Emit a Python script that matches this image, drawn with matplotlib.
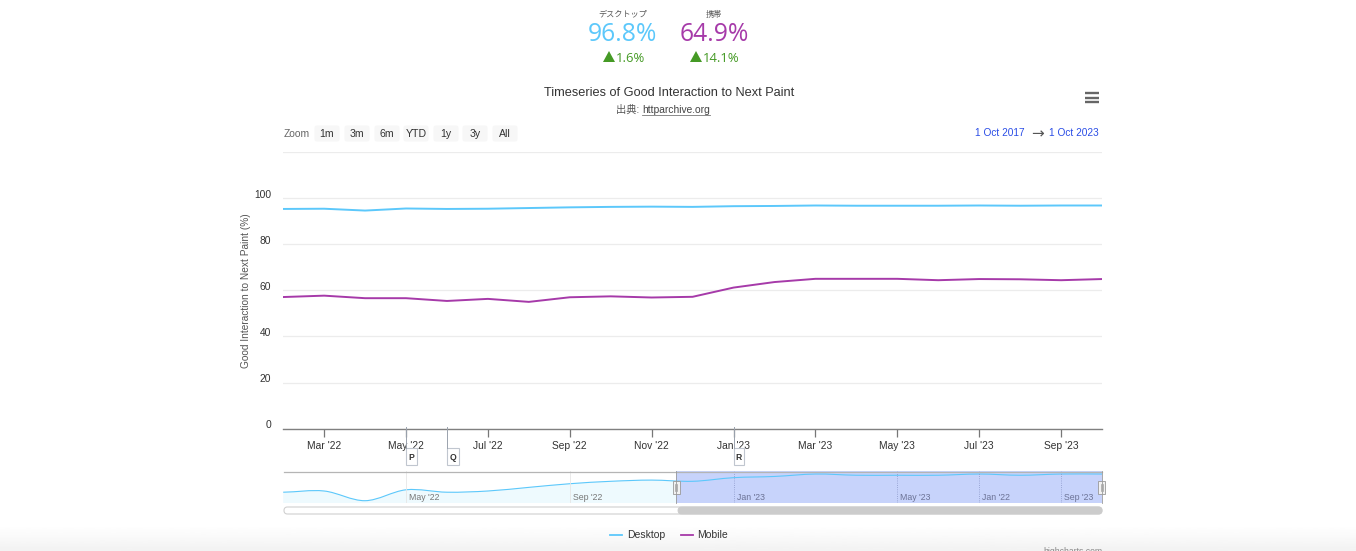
import numpy as np
import matplotlib
matplotlib.use("Agg")
import matplotlib.pyplot as plt
from matplotlib.patches import FancyBboxPatch, PathPatch, Polygon, Rectangle
from matplotlib.path import Path
from matplotlib.transforms import ScaledTranslation

plt.rcParams['font.family'] = ['Liberation Sans', 'Noto Sans CJK JP', 'DejaVu Sans']

W, H = 1356, 551

months = ["Feb '22", "Mar '22", "Apr '22", "May '22", "Jun '22", "Jul '22", "Aug '22",
          "Sep '22", "Oct '22", "Nov '22", "Dec '22", "Jan '23", "Feb '23", "Mar '23",
          "Apr '23", "May '23", "Jun '23", "Jul '23", "Aug '23", "Sep '23", "Oct '23"]
desktop = [95.3, 95.4, 94.6, 95.5, 95.3, 95.4, 95.7, 96.0, 96.2, 96.3, 96.2,
           96.5, 96.6, 96.8, 96.7, 96.7, 96.7, 96.8, 96.7, 96.8, 96.8]
mobile = [57.1, 57.7, 56.6, 56.6, 55.4, 56.3, 55.0, 57.0, 57.4, 56.9, 57.2,
          61.2, 63.6, 65.0, 65.0, 65.0, 64.4, 64.9, 64.8, 64.4, 64.9]
y_ticks = [0, 20, 40, 60, 80, 100, 120]
y_labels = ["0", "20", "40", "60", "80", "100", ""]
flag_months = ["May '22", "Jun '22", "Jan '23"]
flag_names = ["P", "Q", "R"]
nav_labels = {"May '22": "May '22", "Sep '22": "Sep '22", "Jan '23": "Jan '23",
              "May '23": "May '23", "Jul '23": "Jan '22", "Sep '23": "Sep '23"}
range_buttons = ["1m", "3m", "6m", "YTD", "1y", "3y", "All"]
button_left = [314, 344, 374, 403, 433, 462, 492]

BLUE = "#5cc8fb"
PURPLE = "#a63aa9"
GREEN = "#459a25"
TEXT = "#333333"
LINK = "#2a4de6"


def px_axes(fig, left, top, right, bottom):
    return fig.add_axes([left / W, 1 - bottom / H, (right - left) / W, (bottom - top) / H])


def smooth_path(xs, ys):
    # bezier segments through the data, the navigator series is drawn as a spline
    verts = [(xs[0], ys[0])]
    codes = [Path.MOVETO]
    for i in range(len(xs) - 1):
        d0 = (ys[i + 1] - ys[max(i - 1, 0)]) / 6
        d1 = (ys[min(i + 2, len(ys) - 1)] - ys[i]) / 6
        verts += [(xs[i] + 1 / 3, ys[i] + d0), (xs[i + 1] - 1 / 3, ys[i + 1] - d1), (xs[i + 1], ys[i + 1])]
        codes += [Path.CURVE4] * 3
    return verts, codes


fig = plt.figure(figsize=(W / 100, H / 100), dpi=100, facecolor="white")
x = np.arange(len(months))

# main chart
ax = px_axes(fig, 283.2, 152, 1102, 428.7)
ax.plot(x, desktop, color=BLUE, lw=1.4, zorder=3)
ax.plot(x, mobile, color=PURPLE, lw=1.4, zorder=3)
ax.set_xlim(0, len(months) - 1)
ax.set_ylim(0, 120)
ax.set_yticks(y_ticks)
ax.set_yticklabels(y_labels, fontsize=7.4, color=TEXT, va="bottom")
ax.set_xticks(x[1::2])
ax.set_xticklabels(months[1::2], fontsize=7.4, color=TEXT)
ax.tick_params(axis="y", length=0, pad=8.8)
ax.tick_params(axis="x", length=5.5, width=0.9, color="#777777", pad=3.7)
ax.grid(axis="y", color="#ececec", lw=0.9)
ax.set_axisbelow(True)
for side in ["top", "left", "right"]:
    ax.spines[side].set_visible(False)
ax.spines["bottom"].set_color("#808080")
ax.spines["bottom"].set_linewidth(1.0)
ax.set_ylabel("Good Interaction to Next Paint (%)", fontsize=7.3, color="#555555")
ax.yaxis.set_label_coords(-32 / 818, 0.5)
for lab in ax.get_yticklabels():
    lab.set_transform(lab.get_transform() + ScaledTranslation(0, -1.5 / 100, fig.dpi_scale_trans))

# navigator
nav = px_axes(fig, 283.2, 471, 1102, 503)
verts, codes = smooth_path(x, desktop)
nav.add_patch(PathPatch(Path(verts + [(x[-1], 94.0), (x[0], 94.0)],
                             codes + [Path.LINETO, Path.LINETO]),
                        fc="#eefafe", ec="none", zorder=1))
nav.set_xlim(0, len(months) - 1)
nav.set_ylim(94.41, 97.05)
sel_start = 9.6
nav.axvspan(sel_start, x[-1], color="#c7d3fb", zorder=3, lw=0)
nav.add_patch(PathPatch(Path(verts, codes), fc="none", ec=BLUE, lw=0.8, zorder=4))
for m, lab in nav_labels.items():
    i = months.index(m)
    nav.axvline(i, color="#8a97c8" if i > sel_start else "#e6e6e6", lw=0.6,
                ls=":" if i > sel_start else "-", zorder=5)
    nav.annotate(lab, (i, 0), xycoords=("data", "axes fraction"), xytext=(3, 1),
                 textcoords="offset pixels", fontsize=6.3, va="bottom",
                 color="#6c7396" if i > sel_start else "#777777", zorder=6)
nav.set_xticks([])
nav.set_yticks([])
for side in nav.spines:
    nav.spines[side].set_visible(False)

# everything else goes on an overlay in pixel coordinates
ov = fig.add_axes([0, 0, 1, 1], zorder=10)
ov.patch.set_alpha(0)
ov.axis("off")

grad = np.linspace(0, 1, 30).reshape(-1, 1)
ov.imshow(1 - grad * 0.05, extent=(0, W, 551, 525), cmap="gray", vmin=0, vmax=1,
          aspect="auto", zorder=0)
ov.set_xlim(0, W)
ov.set_ylim(H, 0)

# stats header
ov.text(623, 15, "デスクトップ", fontsize=5.9, color="#555555", ha="center", va="center")
ov.text(714, 15, "携帯", fontsize=5.9, color="#555555", ha="center", va="center")
ov.text(622.5, 34.5, "96.8%", fontsize=17.8, color=BLUE, family="Open Sans", ha="center", va="center")
ov.text(714, 34.5, "64.9%", fontsize=17.8, color=PURPLE, family="Open Sans", ha="center", va="center")
for left, change in zip([603, 690], ["1.6%", "14.1%"]):
    ov.add_patch(Polygon([(left, 62), (left + 6, 51), (left + 12, 62)], fc=GREEN, ec="none"))
    ov.text(left + 13, 58, change, fontsize=9.4, color=GREEN, family="Open Sans", va="center")

# title block
ov.text(669, 92.5, "Timeseries of Good Interaction to Next Paint", fontsize=9.2, color=TEXT,
        ha="center", va="center")
ov.text(616, 110, "出典: ", fontsize=7.4, color="#555555", va="center")
ov.text(642, 110, "httparchive.org", fontsize=7.4, color="#444444", va="center")
ov.plot([642, 710], [114.5, 114.5], color="#777777", lw=0.6)
for y in [93, 97.5, 102]:
    ov.plot([1085, 1099], [y, y], color="#666666", lw=1.7, solid_capstyle="butt")

# range selector
ov.text(284, 134, "Zoom", fontsize=7.4, color="#666666", va="center")
for lab, left in zip(range_buttons, button_left):
    ov.add_patch(FancyBboxPatch((left + 1, 126), 24, 15, boxstyle="round,pad=0,rounding_size=2",
                                fc="#f7f7f7", ec="#f7f7f7", lw=0.8))
    ov.text(left + 13, 134, lab, fontsize=7.6, color=TEXT, ha="center", va="center")
ov.text(975, 133, "1 Oct 2017", fontsize=7.3, color=LINK, va="center")
ov.text(1037, 133.5, "→", fontsize=11, color="#555555", ha="center", va="center", family="DejaVu Sans")
ov.text(1049, 133, "1 Oct 2023", fontsize=7.3, color=LINK, va="center")

# flags
for m, name in zip(flag_months, flag_names):
    fx = ax.transData.transform((months.index(m), 0))[0]
    ov.plot([fx, fx], [427, 448], color="#9aa2ad", lw=0.7)
    w = 12 if name == "Q" else 10.5
    ov.add_patch(Rectangle((fx, 448), w, 17, fc="white", ec="#c0c6cf", lw=0.8))
    ov.text(fx + w / 2, 457, name, fontsize=6.2, fontweight="bold", color=TEXT, ha="center", va="center")

# navigator frame, handles, scrollbar
ov.plot([284, 1102], [471.5, 471.5], color="#b5b5b5", lw=0.9)
ov.plot([676, 676], [471, 503], color="#9a9a9a", lw=0.6)
ov.plot([1101.7, 1101.7], [471, 503], color="#9a9a9a", lw=0.6)
for hx in [676, 1101.7]:
    ov.add_patch(Rectangle((hx - 3.5, 481), 7, 13, fc="#f2f2f2", ec="#999999", lw=0.6))
    ov.plot([hx - 1, hx - 1], [484, 491], color="#999999", lw=0.5)
    ov.plot([hx + 1, hx + 1], [484, 491], color="#999999", lw=0.5)
ov.add_patch(FancyBboxPatch((284, 507), 818, 7, boxstyle="round,pad=0,rounding_size=3.5",
                            fc="white", ec="#d0d0d0", lw=0.8))
ov.add_patch(FancyBboxPatch((678, 507), 424, 7, boxstyle="round,pad=0,rounding_size=3.5",
                            fc="#cccccc", ec="#cccccc", lw=0.6))

# legend
ov.plot([610, 622], [534.5, 534.5], color=BLUE, lw=1.3)
ov.text(627, 535, "Desktop", fontsize=7.5, color=TEXT, va="center")
ov.plot([681, 693], [534.5, 534.5], color=PURPLE, lw=1.3)
ov.text(697, 535, "Mobile", fontsize=7.5, color=TEXT, va="center")
ov.text(1102, 547, "highcharts.com", fontsize=6.2, color="#888888", ha="right", va="top", clip_on=True)

fig.savefig("out.png", dpi=100)
